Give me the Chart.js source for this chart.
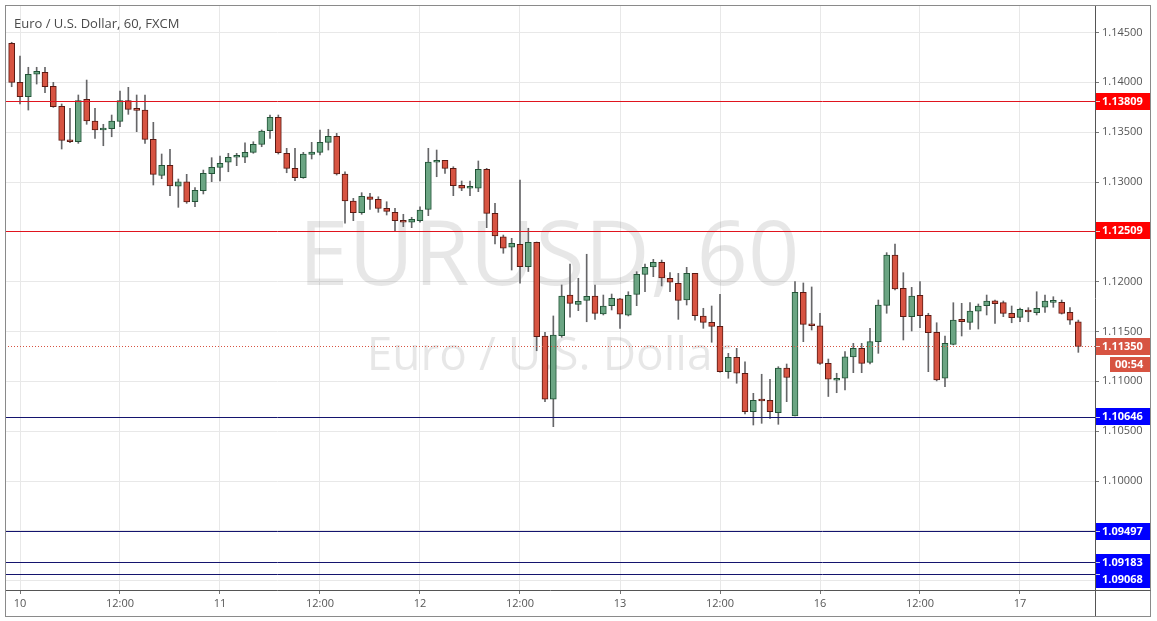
<!DOCTYPE html>
<html><head><meta charset="utf-8">
<script src="https://cdn.jsdelivr.net/npm/chart.js@4.4.1/dist/chart.umd.min.js"></script>
<style>html,body{margin:0;padding:0;background:#fff;overflow:hidden}</style>
</head><body>
<canvas id="c" width="1157" height="621"></canvas>
<script>
const chartTitle = 'Euro / U.S. Dollar, 60, FXCM';
const watermarkMain = 'EURUSD, 60';
const watermarkSub = 'Euro / U.S. Dollar';

const opens = [1.14392,1.14000,1.13856,1.14081,1.14101,1.13960,1.13759,1.13418,1.13404,1.13830,
1.13612,1.13522,1.13535,1.13609,1.13816,1.13732,1.13722,1.13428,1.13067,1.13168,
1.12957,1.13003,1.12802,1.12913,1.13083,1.13147,1.13198,1.13248,1.13248,1.13298,
1.13378,1.13515,1.13649,1.13288,1.13137,1.13043,1.13278,1.13298,1.13398,1.13458,
1.13080,1.12809,1.12692,1.12852,1.12826,1.12736,1.12696,1.12616,1.12596,1.12612,
1.12726,1.13198,1.13218,1.13137,1.12967,1.12937,1.12937,1.13127,1.12686,1.12451,
1.12345,1.12375,1.12150,1.12395,1.11455,1.10820,1.11458,1.11866,1.11773,1.11813,
1.11856,1.11676,1.11759,1.11829,1.11663,1.11873,1.12074,1.12147,1.12194,1.12034,
1.11984,1.11816,1.12084,1.11656,1.11592,1.11552,1.11097,1.11241,1.11081,1.10696,
1.10810,1.10810,1.10686,1.11134,1.10652,1.11893,1.11572,1.11558,1.11181,1.11011,
1.11031,1.11244,1.11331,1.11191,1.11398,1.11763,1.12268,1.11933,1.11649,1.11863,
1.11663,1.11492,1.11031,1.11371,1.11622,1.11592,1.11703,1.11759,1.11809,1.11789,
1.11682,1.11642,1.11716,1.11689,1.11743,1.11793,1.11793,1.11692,1.11598];

const highs = [1.14402,1.14264,1.14151,1.14151,1.14151,1.14000,1.13783,1.13739,1.13873,1.14023,
1.13739,1.13579,1.13672,1.13913,1.13950,1.13873,1.13873,1.13599,1.13281,1.13328,
1.13030,1.13077,1.12943,1.13120,1.13244,1.13261,1.13288,1.13288,1.13394,1.13404,
1.13522,1.13672,1.13672,1.13338,1.13338,1.13298,1.13398,1.13522,1.13529,1.13488,
1.13103,1.12836,1.12893,1.12887,1.12852,1.12802,1.12736,1.12676,1.12646,1.12752,
1.13338,1.13321,1.13218,1.13153,1.13010,1.13010,1.13211,1.13137,1.12787,1.12468,
1.12435,1.13020,1.12536,1.12398,1.11492,1.11656,1.11967,1.12177,1.12034,1.12275,
1.11967,1.11866,1.11876,1.11833,1.11899,1.12100,1.12177,1.12224,1.12217,1.12092,
1.12084,1.12144,1.12084,1.11733,1.11756,1.11873,1.11281,1.11331,1.11197,1.10880,
1.11071,1.11021,1.11147,1.11174,1.12000,1.11987,1.11947,1.11683,1.11224,1.11081,
1.11298,1.11381,1.11381,1.11532,1.11816,1.12291,1.12378,1.12090,1.11943,1.12000,
1.11683,1.11588,1.11455,1.11789,1.11783,1.11789,1.11776,1.11866,1.11816,1.11806,
1.11756,1.11736,1.11739,1.11899,1.11866,1.11849,1.11816,1.11739,1.11615];

const lows = [1.13956,1.13783,1.13722,1.13983,1.13896,1.13749,1.13331,1.13394,1.13388,1.13579,
1.13438,1.13364,1.13454,1.13555,1.13679,1.13505,1.13388,1.12970,1.13033,1.12863,
1.12746,1.12786,1.12752,1.12880,1.13003,1.13010,1.13103,1.13164,1.13194,1.13288,
1.13354,1.13438,1.13281,1.13093,1.13013,1.13037,1.13231,1.13271,1.13321,1.13070,
1.12586,1.12612,1.12676,1.12726,1.12696,1.12669,1.12511,1.12552,1.12542,1.12596,
1.12662,1.13053,1.13087,1.12863,1.12913,1.12863,1.12903,1.12542,1.12378,1.12285,
1.12117,1.11984,1.12102,1.11307,1.10796,1.10545,1.11442,1.11643,1.11709,1.11598,
1.11622,1.11666,1.11716,1.11532,1.11656,1.11759,1.11899,1.12050,1.11957,1.11899,
1.11622,1.11766,1.11615,1.11532,1.11392,1.11091,1.11031,1.10981,1.10673,1.10562,
1.10579,1.10629,1.10569,1.10796,1.10652,1.11398,1.11515,1.11169,1.10848,1.10886,
1.10913,1.11087,1.11087,1.11174,1.11281,1.11683,1.11917,1.11415,1.11505,1.11538,
1.11097,1.11004,1.10946,1.11365,1.11455,1.11522,1.11525,1.11666,1.11582,1.11649,
1.11588,1.11598,1.11598,1.11666,1.11692,1.11743,1.11675,1.11572,1.11291];

const closes = [1.14000,1.13856,1.14081,1.14111,1.13956,1.13755,1.13418,1.13404,1.13816,1.13612,
1.13522,1.13542,1.13612,1.13816,1.13729,1.13719,1.13428,1.13077,1.13168,1.12960,
1.13003,1.12799,1.12917,1.13087,1.13147,1.13188,1.13248,1.13261,1.13298,1.13378,
1.13512,1.13649,1.13294,1.13137,1.13043,1.13281,1.13301,1.13398,1.13458,1.13080,
1.12809,1.12692,1.12856,1.12826,1.12736,1.12706,1.12612,1.12596,1.12626,1.12719,
1.13201,1.13218,1.13137,1.12963,1.12937,1.12943,1.13127,1.12686,1.12458,1.12335,
1.12385,1.12150,1.12395,1.11448,1.10820,1.11465,1.11856,1.11783,1.11803,1.11853,
1.11682,1.11756,1.11833,1.11673,1.11863,1.12074,1.12144,1.12194,1.12037,1.11994,
1.11813,1.12084,1.11659,1.11592,1.11552,1.11097,1.11241,1.11081,1.10696,1.10810,
1.10803,1.10696,1.11134,1.11039,1.11893,1.11572,1.11558,1.11181,1.11021,1.11031,
1.11247,1.11331,1.11181,1.11398,1.11766,1.12268,1.11927,1.11649,1.11856,1.11659,
1.11488,1.11014,1.11382,1.11615,1.11598,1.11706,1.11756,1.11806,1.11779,1.11682,
1.11638,1.11723,1.11696,1.11733,1.11806,1.11799,1.11682,1.11615,1.11350];

const xTickIndex = [1,13,25,37,49,61,73,85,97,109,121];
const xTickLabels = ['10','12:00','11','12:00','12','12:00','13','12:00','16','12:00','17'];
const yTickValues = [1.090,1.095,1.100,1.105,1.110,1.115,1.120,1.125,1.130,1.135,1.140,1.145];

const resistanceLevels = [1.13809, 1.12509];
const supportLevels = [1.10646, 1.09497, 1.09183, 1.09068];
const lastPrice = 1.11350;
const countdown = '00:54';

const UP_FILL = '#6ba583', UP_LINE = '#225437';
const DN_FILL = '#d75442', DN_LINE = '#5b1a13';
const WICK = '#666668';
const FONT = "'Open Sans', 'DejaVu Sans', sans-serif";

const idx = opens.map((_, i) => i);
const isUp = idx.map(i => closes[i] >= opens[i]);

const overlay = {
  id: 'overlay',
  beforeDatasetsDraw(chart) {
    const {ctx, chartArea: a} = chart;
    ctx.save();
    ctx.fillStyle = 'rgba(0,0,0,0.095)';
    ctx.textAlign = 'center';
    ctx.textBaseline = 'alphabetic';
    const cx = (a.left + a.right) / 2 - 1;
    ctx.font = '90px ' + FONT;
    ctx.fillText(watermarkMain, cx, 285);
    ctx.font = '46px ' + FONT;
    ctx.fillText(watermarkSub, cx, 370);
    ctx.restore();
  },
  afterDatasetsDraw(chart) {
    const {ctx, chartArea: a, scales: {y}} = chart;
    ctx.save();
    ctx.lineWidth = 1;
    const line = (v, color, dash) => {
      const py = Math.round(y.getPixelForValue(v)) + 0.5;
      ctx.strokeStyle = color;
      ctx.setLineDash(dash || []);
      ctx.beginPath(); ctx.moveTo(a.left, py); ctx.lineTo(a.right, py); ctx.stroke();
    };
    resistanceLevels.forEach(v => line(v, '#e0141e'));
    supportLevels.forEach(v => line(v, '#14146e'));
    line(lastPrice, '#d75442', [1, 2]);
    ctx.restore();
  },
  afterDraw(chart) {
    const {ctx, chartArea: a, scales: {y}} = chart;
    ctx.save();
    ctx.fillStyle = '#4a4a4a';
    ctx.font = '13px ' + FONT;
    ctx.textAlign = 'left';
    ctx.textBaseline = 'alphabetic';
    ctx.fillText(chartTitle, 14, 28);
    ctx.strokeStyle = '#8a8a8a';
    ctx.lineWidth = 1;
    ctx.strokeRect(5.5, 5.5, 1145, 611);
    ctx.strokeStyle = '#555';
    ctx.beginPath();
    ctx.moveTo(a.right, a.bottom + 0.5); ctx.lineTo(1150.5, a.bottom + 0.5);
    ctx.moveTo(a.right + 0.5, a.bottom); ctx.lineTo(a.right + 0.5, 616);
    ctx.stroke();
    const boxes = []
      .concat(resistanceLevels.map(v => ({v, bg: '#ff0000'})))
      .concat(supportLevels.map(v => ({v, bg: '#0000ff'})))
      .concat([{v: lastPrice, bg: '#d75442', last: true}])
      .map(b => Object.assign(b, {py: y.getPixelForValue(b.v)}))
      .sort((p, q) => p.py - q.py);
    let prevBottom = -1e9;
    const H = 17;
    boxes.forEach(b => {
      let top = Math.round(b.py - H / 2);
      if (top < prevBottom) top = prevBottom;
      prevBottom = top + H;
      ctx.fillStyle = b.bg;
      ctx.fillRect(a.right + 1, top, 1150 - a.right - 1, H);
      ctx.strokeStyle = 'rgba(255,255,255,0.8)';
      ctx.beginPath();
      ctx.moveTo(a.right + 1, Math.round(b.py) + 0.5);
      ctx.lineTo(a.right + 5, Math.round(b.py) + 0.5);
      ctx.stroke();
      ctx.fillStyle = '#fff';
      ctx.font = 'bold 11px ' + FONT;
      ctx.textBaseline = 'middle';
      ctx.textAlign = 'left';
      ctx.fillText(b.v.toFixed(5), 1102, top + H / 2 + 0.5);
      if (b.last) {
        const t2 = top + H + 2;
        ctx.fillStyle = b.bg;
        ctx.fillRect(1110, t2, 40, 15);
        ctx.fillStyle = '#fff';
        ctx.fillText(countdown, 1115, t2 + 8);
      }
    });
    ctx.restore();
  }
};

new Chart(document.getElementById('c'), {
  type: 'bar',
  data: {
    datasets: [
      {
        label: 'body',
        order: 0,
        data: idx.map(i => ({x: i, y: [opens[i], closes[i]]})),
        backgroundColor: idx.map(i => isUp[i] ? UP_FILL : DN_FILL),
        borderColor: idx.map(i => isUp[i] ? UP_LINE : DN_LINE),
        borderWidth: 1,
        borderSkipped: false,
        barThickness: 6,
        grouped: false,
        minBarLength: 2
      },
      {
        label: 'wick',
        order: 1,
        data: idx.map(i => ({x: i, y: [lows[i], highs[i]]})),
        backgroundColor: WICK,
        borderWidth: 0,
        barThickness: 1,
        grouped: false
      }
    ]
  },
  options: {
    responsive: false,
    animation: false,
    devicePixelRatio: 1,
    layout: {padding: {left: 5, top: 6, right: 6, bottom: 5}},
    plugins: {legend: {display: false}, tooltip: {enabled: false}},
    scales: {
      x: {
        type: 'linear',
        min: -0.8,
        max: 130,
        offset: false,
        afterFit(s) { s.height = 26; s.paddingLeft = 0; s.paddingRight = 0; },
        afterBuildTicks(s) { s.ticks = xTickIndex.map(v => ({value: v})); },
        ticks: {
          autoSkip: false, maxRotation: 0, padding: 3,
          color: '#555', font: {family: FONT, size: 11},
          callback: (v, i) => xTickLabels[i]
        },
        grid: {offset: false, color: '#e8e8e8', tickLength: 4, tickColor: '#777'},
        border: {display: true, color: '#555'}
      },
      y: {
        type: 'linear',
        position: 'right',
        min: 1.089065,
        max: 1.147659,
        afterFit(s) { s.width = 56; s.paddingTop = 0; s.paddingBottom = 0; },
        afterBuildTicks(s) { s.ticks = yTickValues.map(v => ({value: v})); },
        ticks: {
          padding: 3, color: '#555', font: {family: FONT, size: 11},
          callback: v => Number(v).toFixed(5)
        },
        grid: {color: '#e8e8e8', tickLength: 4, tickColor: '#777'},
        border: {display: true, color: '#555'}
      }
    }
  },
  plugins: [overlay]
});
</script>
</body></html>
